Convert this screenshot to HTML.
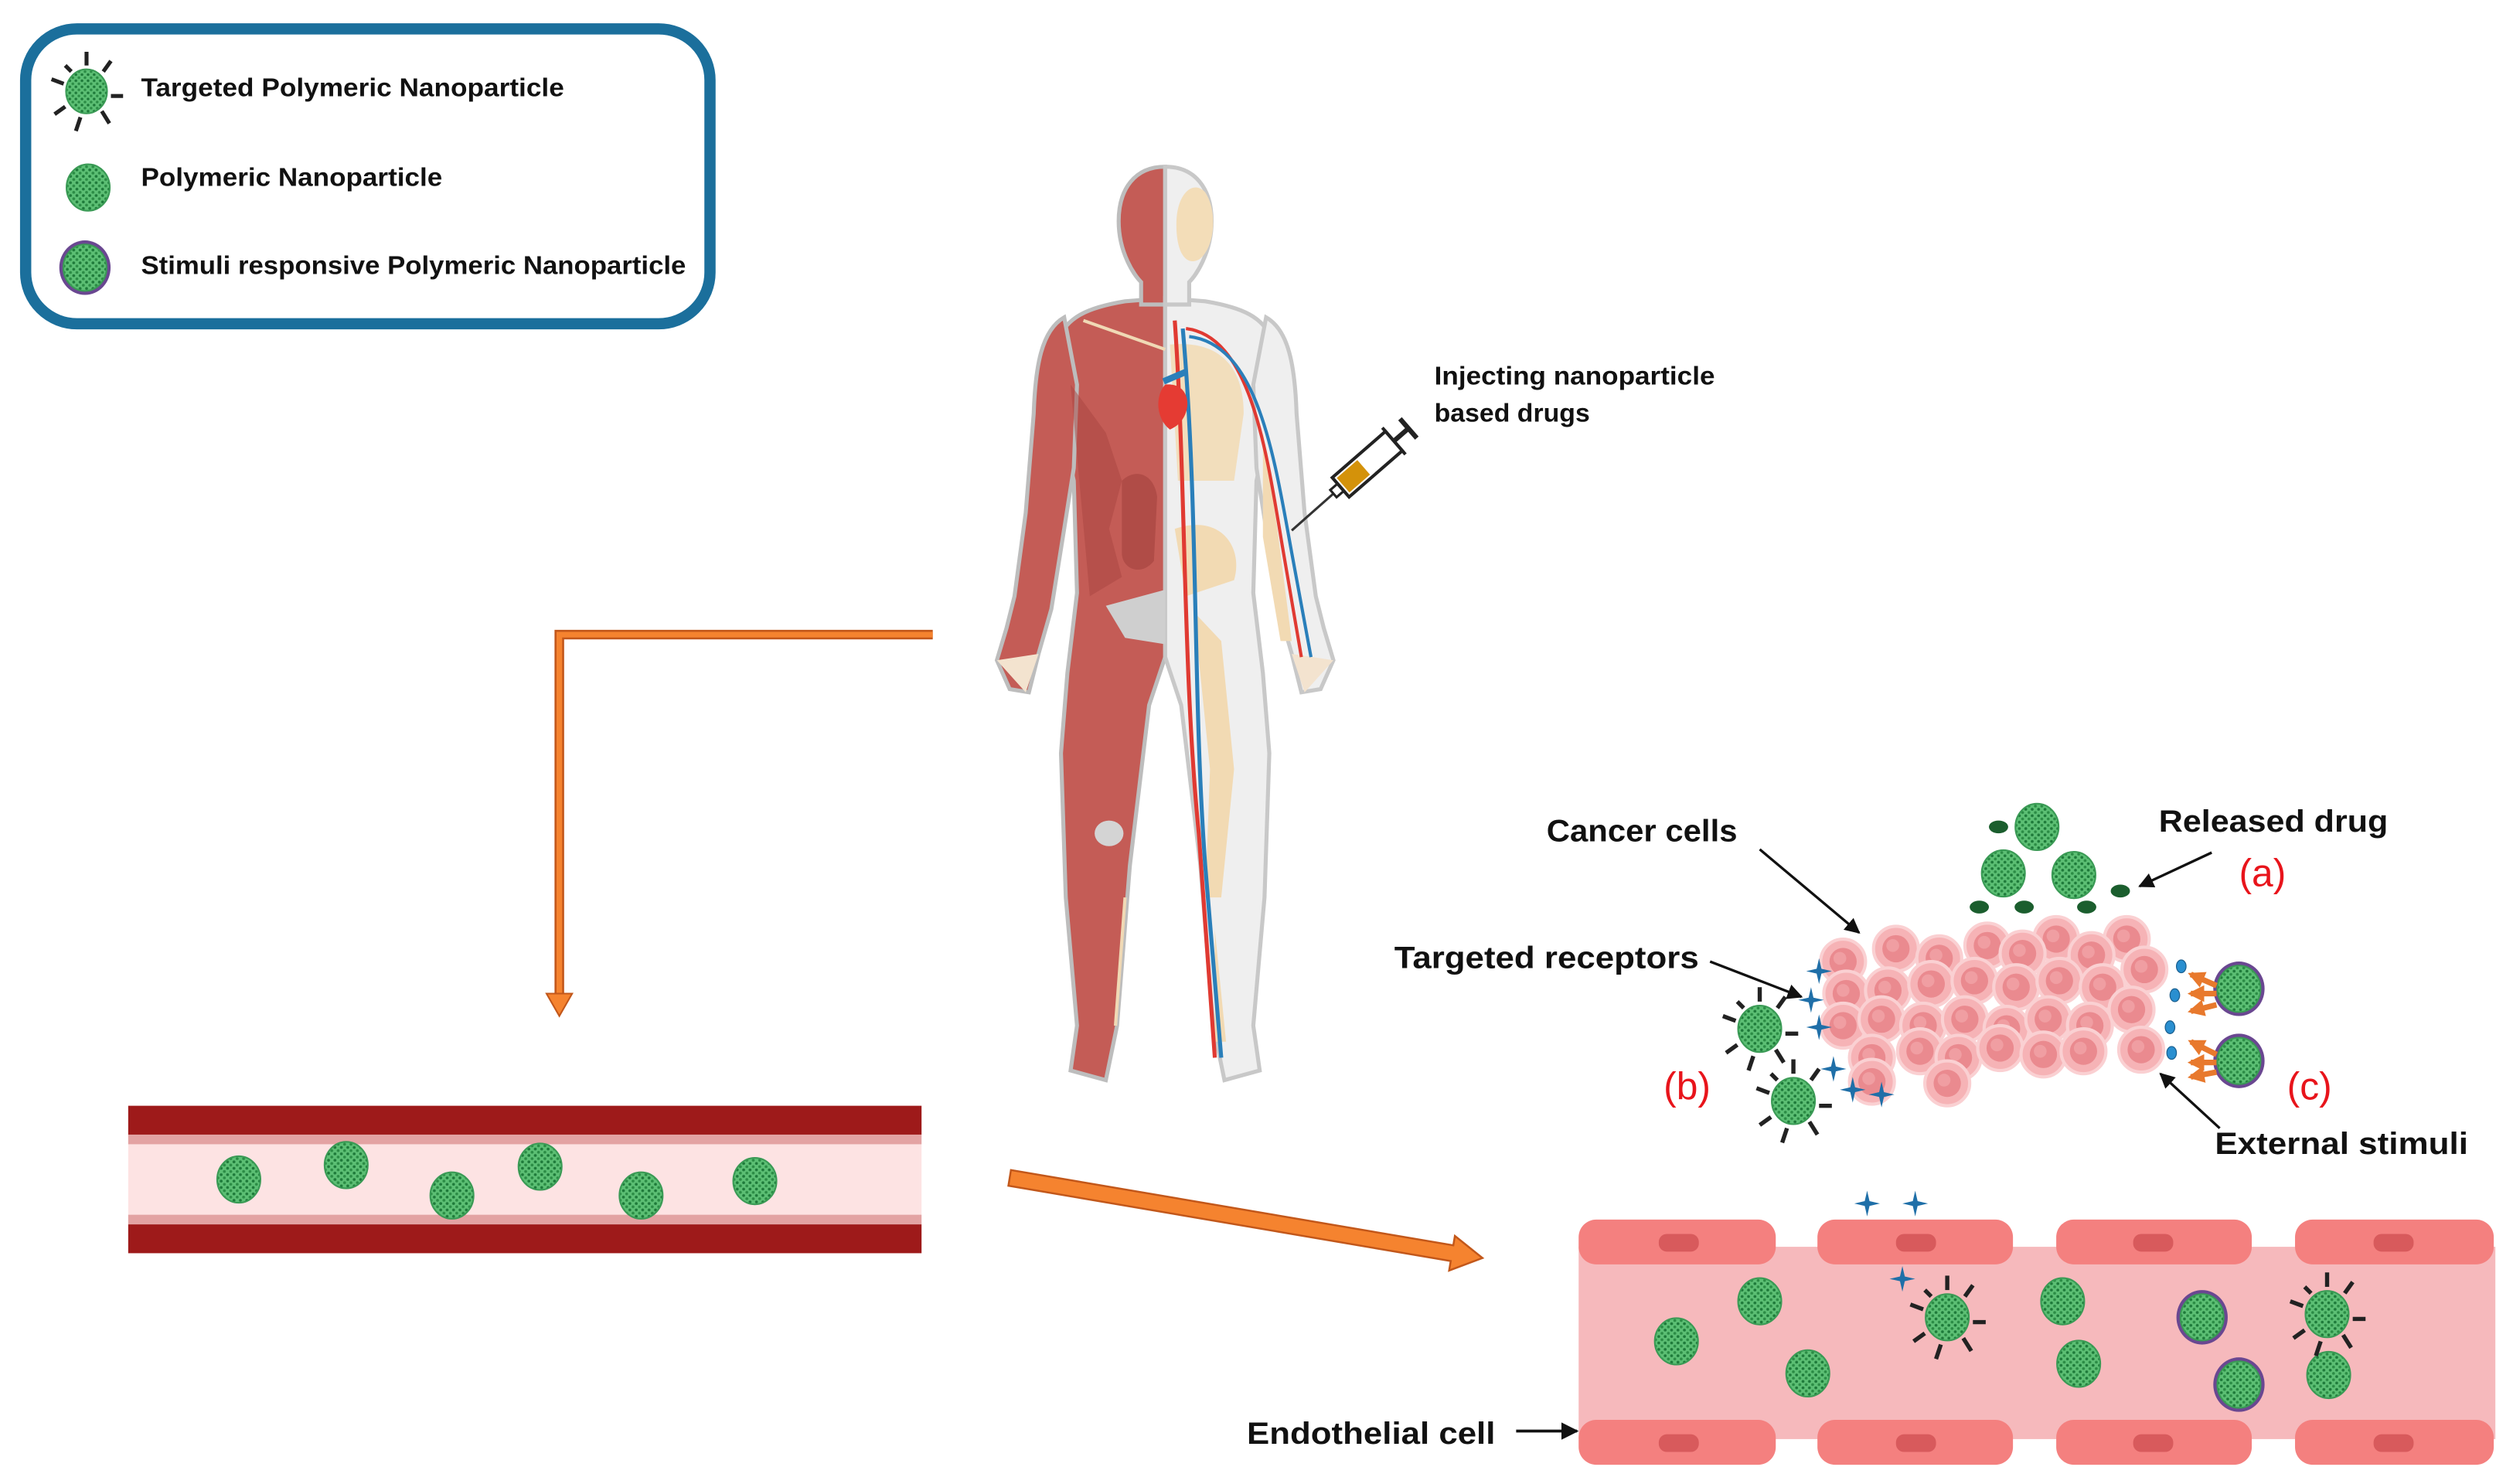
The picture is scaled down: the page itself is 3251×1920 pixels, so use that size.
<!DOCTYPE html>
<html><head><meta charset="utf-8"><style>html,body{margin:0;padding:0;background:#fff}svg{display:block}</style></head>
<body>
<svg width="3251" height="1920" viewBox="0 0 1568 926" xmlns="http://www.w3.org/2000/svg" font-family="Liberation Sans, sans-serif">
<defs>
<pattern id="dp" width="4" height="4" patternUnits="userSpaceOnUse">
<rect width="4" height="4" fill="#5cbf74"/><circle cx="1" cy="1" r="0.9" fill="#1e7a3a"/><circle cx="3" cy="3" r="0.9" fill="#2b8c45"/>
</pattern>
<g id="np"><ellipse cx="0" cy="0" rx="13.5" ry="14.5" fill="url(#dp)" stroke="#3a9a55" stroke-width="1"/></g>
<g id="tnp"><g stroke="#222" stroke-width="2.6" stroke-linecap="butt">
<line x1="0" y1="-17" x2="0" y2="-26"/><line x1="11" y1="-13" x2="16" y2="-20"/><line x1="16" y1="3" x2="24" y2="3"/><line x1="10" y1="13" x2="15" y2="21"/><line x1="-4" y1="17" x2="-7" y2="26"/><line x1="-14" y1="10" x2="-21" y2="15"/><line x1="-15" y1="-5" x2="-23" y2="-8"/><line x1="-10" y1="-13" x2="-14" y2="-17"/></g>
<use href="#np"/></g>
<g id="snp"><ellipse cx="0" cy="0" rx="16" ry="17" fill="#6a4791"/><use href="#np"/></g>
<g id="star"><path d="M0,-8 L1.5,-1.5 L8,0 L1.5,1.5 L0,8 L-1.5,1.5 L-8,0 L-1.5,-1.5Z" fill="#1f6fa8"/></g>
<g id="cc"><circle r="14" fill="#f6b3b6" stroke="#fad0d2" stroke-width="2"/><circle r="8.5" fill="#ea8a8f"/><circle cx="-2" cy="-2" r="4" fill="#f09ea2"/></g>
<marker id="ah" viewBox="0 0 10 10" refX="9" refY="5" markerWidth="6" markerHeight="6" orient="auto"><path d="M0,0 L10,5 L0,10 Z" fill="#111"/></marker>
<marker id="oh" viewBox="0 0 10 10" refX="8" refY="5" markerWidth="3" markerHeight="3" orient="auto"><path d="M0,0 L10,5 L0,10 Z" fill="#e8792d"/></marker>
<g id="half">
<path d="M727,186 L702,188 C678,192 666,198 660,212 L661,260 L670,300 L672,370 L666,420 L662,470 L665,560 L672,640 L668,668 L690,674 L697,640 L705,540 L717,440 L727,410 Z"/>
<path d="M664,198 C650,206 646,228 645,258 L640,320 L633,372 L628,392 L622,412 L630,430 L642,432 L648,408 L656,380 L664,330 L670,292 L672,240 Z"/>
<path d="M727,104 C708,104 698,118 698,138 C698,158 708,172 712,176 L712,190 L727,190 Z"/>
</g>
</defs>

<!-- legend -->
<rect x="16" y="18" width="427" height="184" rx="32" fill="#fff" stroke="#1b6f9c" stroke-width="7"/>
<use href="#tnp" transform="translate(54,57) scale(0.95)"/>
<use href="#np" transform="translate(55,117)"/>
<use href="#snp" transform="translate(53,167)"/>
<g font-weight="bold" font-size="16" fill="#111">
<text x="88" y="60" textLength="264" lengthAdjust="spacingAndGlyphs">Targeted Polymeric Nanoparticle</text>
<text x="88" y="116" textLength="188" lengthAdjust="spacingAndGlyphs">Polymeric Nanoparticle</text>
<text x="88" y="171" textLength="340" lengthAdjust="spacingAndGlyphs">Stimuli responsive Polymeric Nanoparticle</text>
</g>

<!-- body -->
<g>
<g fill="#c45c56" stroke="#bdbdbd" stroke-width="2.5"><use href="#half"/></g>
<g fill="#efefef" stroke="#c8c8c8" stroke-width="2.5" transform="translate(1454,0) scale(-1,1)"><use href="#half"/></g>
<!-- left details -->
<path d="M668,240 L690,270 L700,300 L692,330 L700,360 L680,372 Z" fill="#a8443f" opacity="0.5"/>
<path d="M700,300 C708,292 720,295 722,310 L720,350 C712,360 700,355 700,345 Z" fill="#b04c47"/>
<path d="M690,378 L727,368 L727,402 L702,398 Z" fill="#cfcfcf"/>
<ellipse cx="692" cy="520" rx="9" ry="8" fill="#d4d4d4"/>
<path d="M676,200 L727,218" stroke="#f0d9b5" stroke-width="2"/>
<path d="M702,560 L696,640" stroke="#f0d9b5" stroke-width="2"/>
<path d="M622,412 L640,432 L648,408 Z" fill="#f3e3cf"/>
<path d="M832,412 L814,432 L806,408 Z" fill="#f3e3cf"/>
<!-- right details -->
<path d="M734,140 C734,120 745,112 752,120 C760,132 758,155 748,162 C740,166 734,158 734,140Z" fill="#f3ddb8"/>
<path d="M730,215 C760,212 776,228 776,258 L770,300 L735,300 Z" fill="#f2dab3" opacity="0.85"/>
<path d="M733,330 C762,320 776,342 770,362 L740,372 Z" fill="#f2dab3"/>
<path d="M745,382 L762,400 L770,480 L762,560 L752,560 L755,480 Z" fill="#f2dab3"/>
<path d="M758,580 L765,650 L758,650 Z" fill="#f2dab3"/>
<path d="M788,270 L797,330 L806,400 L799,400 L788,335 Z" fill="#f2dab3"/>
<path d="M733,200 C740,300 738,420 748,520 L758,660" fill="none" stroke="#e03a32" stroke-width="2.5"/>
<path d="M738,205 C748,320 744,430 752,540 L762,660" fill="none" stroke="#2a7fba" stroke-width="2.5"/>
<path d="M740,205 C780,210 790,280 800,340 L812,410" fill="none" stroke="#e03a32" stroke-width="2"/>
<path d="M742,210 C785,215 795,285 806,345 L818,410" fill="none" stroke="#2a7fba" stroke-width="2"/>
<path d="M727,240 C745,238 745,262 730,268 C722,262 720,248 727,240Z" fill="#e53b33"/>
<path d="M726,238 L740,232" stroke="#2a7fba" stroke-width="4"/>
</g>

<!-- syringe -->
<g>
<line x1="806" y1="331" x2="832" y2="308" stroke="#333" stroke-width="1.5"/>
<g transform="translate(832,308) rotate(-41)">
<rect x="0" y="-3" width="6" height="6" fill="#fff" stroke="#222" stroke-width="1.5"/>
<rect x="6" y="-8" width="44" height="16" fill="#fff" stroke="#222" stroke-width="2"/>
<rect x="8" y="-6" width="17" height="12" fill="#d4920a"/>
<line x1="50" y1="0" x2="62" y2="0" stroke="#222" stroke-width="3"/>
<line x1="50" y1="-11" x2="50" y2="11" stroke="#222" stroke-width="2"/>
<line x1="62" y1="-8" x2="62" y2="8" stroke="#222" stroke-width="3"/>
</g>
</g>
<g font-weight="bold" font-size="16" fill="#111">
<text x="895" y="240" textLength="175" lengthAdjust="spacingAndGlyphs">Injecting nanoparticle</text>
<text x="895" y="263" textLength="97" lengthAdjust="spacingAndGlyphs">based drugs</text>
</g>

<!-- orange L connector -->
<polyline points="582,396 349,396 349,622" fill="none" stroke="#c2571a" stroke-width="6"/>
<polyline points="582,396 349,396 349,622" fill="none" stroke="#f5832f" stroke-width="3.5"/>
<polygon points="341,620 357,620 349,634" fill="#f5832f" stroke="#c2571a" stroke-width="1"/>

<!-- left vessel -->
<rect x="80" y="690" width="495" height="92" fill="#fde3e3"/>
<rect x="80" y="690" width="495" height="18" fill="#9e1a1a"/>
<rect x="80" y="764" width="495" height="18" fill="#9e1a1a"/>
<rect x="80" y="708" width="495" height="6" fill="#e3a3a3"/>
<rect x="80" y="758" width="495" height="6" fill="#e3a3a3"/>
<use href="#np" transform="translate(149,736)"/>
<use href="#np" transform="translate(216,727)"/>
<use href="#np" transform="translate(282,746)"/>
<use href="#np" transform="translate(337,728)"/>
<use href="#np" transform="translate(400,746)"/>
<use href="#np" transform="translate(471,737)"/>

<!-- diagonal arrow -->
<polygon points="630.8,730.1 906.8,777.1 907.8,771.2 925,785 904.2,792.8 905.2,786.9 629.2,739.9" fill="#f5832f" stroke="#c2571a" stroke-width="1.2"/>

<!-- right vessel -->
<rect x="985" y="778" width="572" height="120" fill="#f6b9bc"/>
<g fill="#f4807f">
<rect x="985" y="761" width="123" height="28" rx="11"/>
<rect x="1134" y="761" width="122" height="28" rx="11"/>
<rect x="1283" y="761" width="122" height="28" rx="11"/>
<rect x="1432" y="761" width="124" height="28" rx="11"/>
<rect x="985" y="886" width="123" height="28" rx="11"/>
<rect x="1134" y="886" width="122" height="28" rx="11"/>
<rect x="1283" y="886" width="122" height="28" rx="11"/>
<rect x="1432" y="886" width="124" height="28" rx="11"/>
</g>
<g fill="#d85a5c">
<rect x="1035" y="770" width="25" height="11" rx="5"/><rect x="1183" y="770" width="25" height="11" rx="5"/><rect x="1331" y="770" width="25" height="11" rx="5"/><rect x="1481" y="770" width="25" height="11" rx="5"/>
<rect x="1035" y="895" width="25" height="11" rx="5"/><rect x="1183" y="895" width="25" height="11" rx="5"/><rect x="1331" y="895" width="25" height="11" rx="5"/><rect x="1481" y="895" width="25" height="11" rx="5"/>
</g>
<use href="#np" transform="translate(1046,837)"/>
<use href="#np" transform="translate(1098,812)"/>
<use href="#np" transform="translate(1128,857)"/>
<use href="#np" transform="translate(1287,812)"/>
<use href="#np" transform="translate(1297,851)"/>
<use href="#np" transform="translate(1453,858)"/>
<use href="#tnp" transform="translate(1215,822)"/>
<use href="#tnp" transform="translate(1452,820)"/>
<use href="#snp" transform="translate(1374,822)"/>
<use href="#snp" transform="translate(1397,864)"/>
<use href="#star" transform="translate(1165,751)"/>
<use href="#star" transform="translate(1195,751)"/>
<use href="#star" transform="translate(1187,798)"/>
<text x="778" y="901" font-weight="bold" font-size="19" fill="#111" textLength="155" lengthAdjust="spacingAndGlyphs">Endothelial cell</text>
<line x1="946" y1="893" x2="984" y2="893" stroke="#111" stroke-width="1.8" marker-end="url(#ah)"/>

<!-- cancer cluster -->
<g>
<use href="#cc" transform="translate(1150,600)"/><use href="#cc" transform="translate(1183,592)"/><use href="#cc" transform="translate(1240,590)"/><use href="#cc" transform="translate(1283,586)"/><use href="#cc" transform="translate(1327,586)"/><use href="#cc" transform="translate(1262,595)"/><use href="#cc" transform="translate(1305,596)"/><use href="#cc" transform="translate(1210,598)"/>
<use href="#cc" transform="translate(1152,620)"/><use href="#cc" transform="translate(1178,618)"/><use href="#cc" transform="translate(1205,614)"/><use href="#cc" transform="translate(1232,612)"/><use href="#cc" transform="translate(1258,616)"/><use href="#cc" transform="translate(1285,612)"/><use href="#cc" transform="translate(1312,616)"/><use href="#cc" transform="translate(1338,605)"/>
<use href="#cc" transform="translate(1150,640)"/><use href="#cc" transform="translate(1174,636)"/><use href="#cc" transform="translate(1200,640)"/><use href="#cc" transform="translate(1226,636)"/><use href="#cc" transform="translate(1252,642)"/><use href="#cc" transform="translate(1278,636)"/><use href="#cc" transform="translate(1304,640)"/><use href="#cc" transform="translate(1330,630)"/>
<use href="#cc" transform="translate(1168,660)"/><use href="#cc" transform="translate(1198,656)"/><use href="#cc" transform="translate(1222,660)"/><use href="#cc" transform="translate(1248,654)"/><use href="#cc" transform="translate(1275,658)"/><use href="#cc" transform="translate(1300,656)"/><use href="#cc" transform="translate(1336,655)"/>
<use href="#cc" transform="translate(1168,675)"/><use href="#cc" transform="translate(1215,676)"/>
</g>
<g fill="#1b5e2e">
<ellipse cx="1247" cy="516" rx="6" ry="4"/><ellipse cx="1323" cy="556" rx="6" ry="4"/><ellipse cx="1235" cy="566" rx="6" ry="4"/><ellipse cx="1263" cy="566" rx="6" ry="4"/><ellipse cx="1302" cy="566" rx="6" ry="4"/>
</g>
<use href="#np" transform="translate(1271,516)"/>
<use href="#np" transform="translate(1250,545)"/>
<use href="#np" transform="translate(1294,546)"/>
<use href="#tnp" transform="translate(1098,642)"/>
<use href="#tnp" transform="translate(1119,687)"/>
<use href="#snp" transform="translate(1397,617)"/>
<use href="#snp" transform="translate(1397,662)"/>
<g fill="#2a8fd0" stroke="#1b5f8f" stroke-width="0.6">
<ellipse cx="1361" cy="603" rx="3" ry="4"/><ellipse cx="1357" cy="621" rx="3" ry="4"/><ellipse cx="1354" cy="641" rx="3" ry="4"/><ellipse cx="1355" cy="657" rx="3" ry="4"/>
</g>
<g stroke="#e8792d" stroke-width="3.5" marker-end="url(#oh)">
<line x1="1383" y1="615" x2="1367" y2="608"/><line x1="1383" y1="620" x2="1367" y2="620"/><line x1="1383" y1="627" x2="1367" y2="631"/>
<line x1="1383" y1="658" x2="1367" y2="650"/><line x1="1383" y1="663" x2="1367" y2="663"/><line x1="1383" y1="669" x2="1367" y2="672"/>
</g>
<use href="#star" transform="translate(1135,606)"/>
<use href="#star" transform="translate(1130,624)"/>
<use href="#star" transform="translate(1135,641)"/>
<use href="#star" transform="translate(1144,667)"/>
<use href="#star" transform="translate(1156,680)"/>
<use href="#star" transform="translate(1174,683)"/>

<g font-weight="bold" font-size="19" fill="#111">
<text x="965" y="525" textLength="119" lengthAdjust="spacingAndGlyphs">Cancer cells</text>
<text x="870" y="604" textLength="190" lengthAdjust="spacingAndGlyphs">Targeted receptors</text>
<text x="1347" y="519" textLength="143" lengthAdjust="spacingAndGlyphs">Released drug</text>
<text x="1382" y="720" textLength="158" lengthAdjust="spacingAndGlyphs">External stimuli</text>
</g>
<g font-size="24" fill="#e8141b">
<text x="1397" y="553">(a)</text>
<text x="1038" y="686">(b)</text>
<text x="1427" y="686">(c)</text>
</g>
<g stroke="#111" stroke-width="1.6" fill="none" marker-end="url(#ah)">
<line x1="1098" y1="530" x2="1160" y2="582"/>
<line x1="1067" y1="600" x2="1124" y2="622"/>
<line x1="1380" y1="532" x2="1335" y2="553"/>
<line x1="1385" y1="704" x2="1348" y2="670"/>
</g>
</svg>
</body></html>
